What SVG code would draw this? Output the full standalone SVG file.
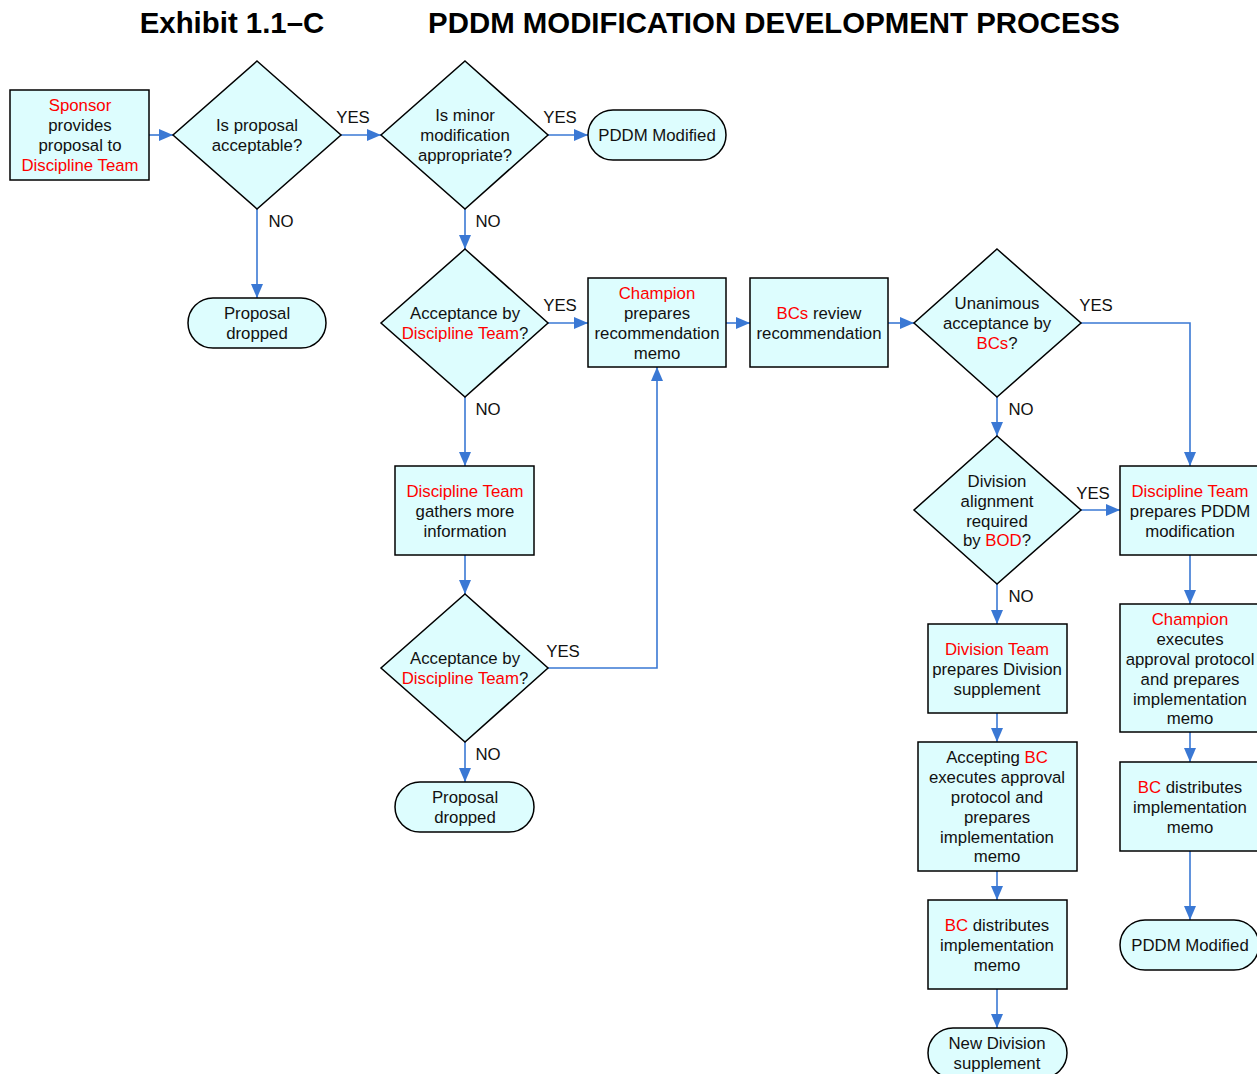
<svg xmlns="http://www.w3.org/2000/svg" width="1257" height="1074" viewBox="0 0 1257 1074">
<style>
.n{fill:#DDFDFE;stroke:#000;stroke-width:1.5}
text{font-family:"Liberation Sans",Arial,sans-serif;font-size:16.8px;fill:#111;text-anchor:middle}
.r{fill:#FF0000}
.t{font-size:29.4px;font-weight:bold;fill:#000}
.c{fill:none;stroke:#3A78D4;stroke-width:1.6}
</style>
<defs>
<marker id="a" markerUnits="userSpaceOnUse" markerWidth="14" markerHeight="12" refX="14" refY="6" orient="auto">
<path d="M0,0 L14,6 L0,12 z" fill="#3A78D4"/>
</marker>
</defs>
<rect width="1257" height="1074" fill="#fff"/>
<text class="t" x="232" y="33">Exhibit 1.1–C</text>
<text class="t" x="774" y="33">PDDM MODIFICATION DEVELOPMENT PROCESS</text>

<g id="connectors">
<path class="c" marker-end="url(#a)" d="M149,135 H173"/>
<path class="c" marker-end="url(#a)" d="M341,135 H381"/>
<path class="c" marker-end="url(#a)" d="M548,135 H588"/>
<path class="c" marker-end="url(#a)" d="M257,209 V298"/>
<path class="c" marker-end="url(#a)" d="M465,209 V249"/>
<path class="c" marker-end="url(#a)" d="M548,323 H588"/>
<path class="c" marker-end="url(#a)" d="M726,323 H750"/>
<path class="c" marker-end="url(#a)" d="M888,323 H914"/>
<path class="c" marker-end="url(#a)" d="M1081,323 H1190 V466"/>
<path class="c" marker-end="url(#a)" d="M997,397 V436"/>
<path class="c" marker-end="url(#a)" d="M465,397 V466"/>
<path class="c" marker-end="url(#a)" d="M465,555 V594"/>
<path class="c" marker-end="url(#a)" d="M548,668 H657 V367"/>
<path class="c" marker-end="url(#a)" d="M465,742 V782"/>
<path class="c" marker-end="url(#a)" d="M1081,510 H1120"/>
<path class="c" marker-end="url(#a)" d="M997,584 V624"/>
<path class="c" marker-end="url(#a)" d="M997,713 V742"/>
<path class="c" marker-end="url(#a)" d="M997,871 V900"/>
<path class="c" marker-end="url(#a)" d="M997,989 V1028"/>
<path class="c" marker-end="url(#a)" d="M1190,555 V604"/>
<path class="c" marker-end="url(#a)" d="M1190,732 V762"/>
<path class="c" marker-end="url(#a)" d="M1190,851 V920"/>
<text x="353" y="123">YES</text>
<text x="560" y="123">YES</text>
<text x="281" y="227">NO</text>
<text x="488" y="227">NO</text>
<text x="560" y="311">YES</text>
<text x="1096" y="311">YES</text>
<text x="1021" y="415">NO</text>
<text x="488" y="415">NO</text>
<text x="563" y="657">YES</text>
<text x="488" y="760">NO</text>
<text x="1093" y="499">YES</text>
<text x="1021" y="602">NO</text>
</g>

<g id="sponsor">
<rect class="n" x="10" y="90" width="139" height="90"/>
<text x="80" y="111" class="r">Sponsor</text>
<text x="80" y="131">provides</text>
<text x="80" y="151">proposal to</text>
<text x="80" y="171" class="r">Discipline Team</text>
</g>
<g id="d1">
<polygon class="n" points="257,61 341,135 257,209 173,135"/>
<text x="257" y="131">Is proposal</text>
<text x="257" y="151">acceptable?</text>
</g>
<g id="d2">
<polygon class="n" points="465,61 548,135 465,209 381,135"/>
<text x="465" y="121">Is minor</text>
<text x="465" y="141">modification</text>
<text x="465" y="161">appropriate?</text>
</g>
<g id="pddm1">
<rect class="n" x="588" y="110" width="138" height="50" rx="25"/>
<text x="657" y="141">PDDM Modified</text>
</g>
<g id="dropped1">
<rect class="n" x="188" y="298" width="138" height="50" rx="25"/>
<text x="257" y="319">Proposal</text>
<text x="257" y="339">dropped</text>
</g>
<g id="d3">
<polygon class="n" points="465,249 548,323 465,397 381,323"/>
<text x="465" y="319">Acceptance by</text>
<text x="465" y="339"><tspan class="r">Discipline Team</tspan>?</text>
</g>
<g id="champion1">
<rect class="n" x="588" y="278" width="138" height="89"/>
<text x="657" y="299" class="r">Champion</text>
<text x="657" y="319">prepares</text>
<text x="657" y="339">recommendation</text>
<text x="657" y="359">memo</text>
</g>
<g id="bcs">
<rect class="n" x="750" y="278" width="138" height="89"/>
<text x="819" y="319"><tspan class="r">BCs</tspan> review</text>
<text x="819" y="339">recommendation</text>
</g>
<g id="d4">
<polygon class="n" points="997,249 1081,323 997,397 914,323"/>
<text x="997" y="309">Unanimous</text>
<text x="997" y="329">acceptance by</text>
<text x="997" y="349"><tspan class="r">BCs</tspan>?</text>
</g>
<g id="gathers">
<rect class="n" x="395" y="466" width="139" height="89"/>
<text x="465" y="497" class="r">Discipline Team</text>
<text x="465" y="517">gathers more</text>
<text x="465" y="537">information</text>
</g>
<g id="d5">
<polygon class="n" points="465,594 548,668 465,742 381,668"/>
<text x="465" y="664">Acceptance by</text>
<text x="465" y="684"><tspan class="r">Discipline Team</tspan>?</text>
</g>
<g id="dropped2">
<rect class="n" x="395" y="782" width="139" height="50" rx="25"/>
<text x="465" y="803">Proposal</text>
<text x="465" y="823">dropped</text>
</g>
<g id="d6">
<polygon class="n" points="997,436 1081,510 997,584 914,510"/>
<text x="997" y="487">Division</text>
<text x="997" y="507">alignment</text>
<text x="997" y="527">required</text>
<text x="997" y="546">by <tspan class="r">BOD</tspan>?</text>
</g>
<g id="prepares">
<rect class="n" x="1120" y="466" width="139" height="89"/>
<text x="1190" y="497" class="r">Discipline Team</text>
<text x="1190" y="517">prepares PDDM</text>
<text x="1190" y="537">modification</text>
</g>
<g id="divteam">
<rect class="n" x="928" y="624" width="139" height="89"/>
<text x="997" y="655" class="r">Division Team</text>
<text x="997" y="675">prepares Division</text>
<text x="997" y="695">supplement</text>
</g>
<g id="champion2">
<rect class="n" x="1120" y="604" width="139" height="128"/>
<text x="1190" y="625" class="r">Champion</text>
<text x="1190" y="645">executes</text>
<text x="1190" y="665">approval protocol</text>
<text x="1190" y="685">and prepares</text>
<text x="1190" y="705">implementation</text>
<text x="1190" y="724">memo</text>
</g>
<g id="accepting">
<rect class="n" x="918" y="742" width="159" height="129"/>
<text x="997" y="763">Accepting <tspan class="r">BC</tspan></text>
<text x="997" y="783">executes approval</text>
<text x="997" y="803">protocol and</text>
<text x="997" y="823">prepares</text>
<text x="997" y="843">implementation</text>
<text x="997" y="862">memo</text>
</g>
<g id="bcdist2">
<rect class="n" x="1120" y="762" width="139" height="89"/>
<text x="1190" y="793"><tspan class="r">BC</tspan> distributes</text>
<text x="1190" y="813">implementation</text>
<text x="1190" y="833">memo</text>
</g>
<g id="bcdist1">
<rect class="n" x="928" y="900" width="139" height="89"/>
<text x="997" y="931"><tspan class="r">BC</tspan> distributes</text>
<text x="997" y="951">implementation</text>
<text x="997" y="971">memo</text>
</g>
<g id="pddm2">
<rect class="n" x="1120" y="920" width="139" height="50" rx="25"/>
<text x="1190" y="951">PDDM Modified</text>
</g>
<g id="newdiv">
<rect class="n" x="928" y="1028" width="139" height="50" rx="25"/>
<text x="997" y="1049">New Division</text>
<text x="997" y="1069">supplement</text>
</g>
</svg>
